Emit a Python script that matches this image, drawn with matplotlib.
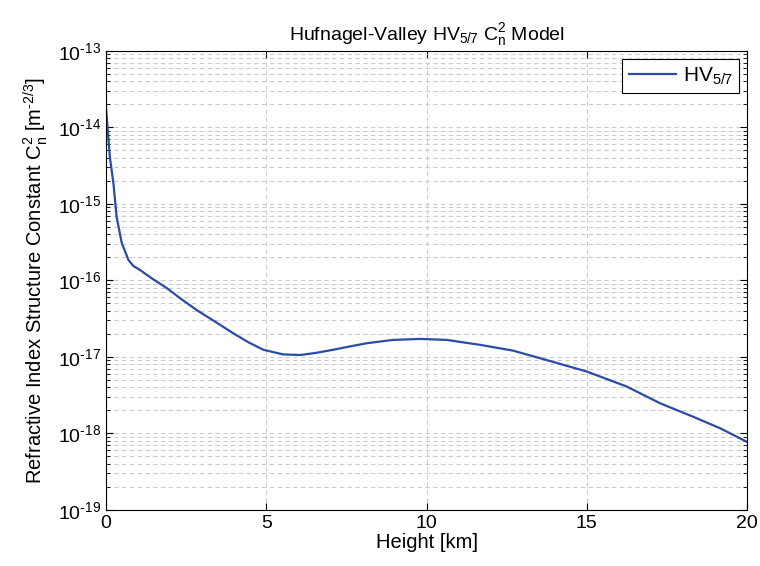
import matplotlib
matplotlib.use('Agg')
import matplotlib.pyplot as plt
from matplotlib.ticker import FixedLocator, NullFormatter, FuncFormatter
import numpy as np

plt.rcParams['font.family'] = ['Liberation Sans', 'DejaVu Sans']
plt.rcParams['mathtext.fontset'] = 'custom'
plt.rcParams['mathtext.rm'] = 'Liberation Sans'
plt.rcParams['mathtext.it'] = 'Liberation Sans'
plt.rcParams['mathtext.default'] = 'regular'

# height [km] and Cn^2 [m^-2/3]
height_km = [0.0, 0.12, 0.23, 0.33, 0.49, 0.70, 0.85, 1.06, 1.45, 1.89, 2.35,
             2.83, 3.4, 3.97, 4.45, 4.91, 5.53, 6.05, 6.55, 7.08, 7.6, 8.13,
             8.95, 9.80, 10.63, 11.67, 12.70, 13.75, 15.0, 16.25, 17.29,
             18.31, 19.16, 19.99]
cn2 = [1.8e-14, 4.1e-15, 1.88e-15, 6.8e-16, 3.1e-16, 1.85e-16, 1.55e-16,
       1.37e-16, 1.05e-16, 7.98e-17, 5.7e-17, 4.1e-17, 2.9e-17, 2.04e-17,
       1.55e-17, 1.24e-17, 1.08e-17, 1.06e-17, 1.13e-17, 1.24e-17, 1.37e-17,
       1.51e-17, 1.67e-17, 1.72e-17, 1.67e-17, 1.44e-17, 1.21e-17, 9.1e-18,
       6.45e-18, 4.1e-18, 2.48e-18, 1.66e-18, 1.17e-18, 7.8e-19]

# axis ticks
x_ticks = [0, 5, 10, 15, 20]
y_decades = [-19, -18, -17, -16, -15, -14, -13]


def decade_label(val, pos):
    n = int(round(np.log10(val)))
    sign = r'\text{-}' if n < 0 else ''
    return r'$10^{%s%d}$' % (sign, abs(n))


y_major = [10.0 ** d for d in y_decades]
y_minor = [m * 10.0 ** d for d in y_decades[:-1] for m in range(2, 10)]

fig = plt.figure(figsize=(7.6, 5.66), dpi=100)
ax = fig.add_axes([0.1395, 0.099, 0.8434, 0.811])

ax.semilogy(height_km, cn2, color='#2b4ca6', lw=1.6, label='HV$_{5/7}$')

ax.set_xlim(0, 20)
ax.set_ylim(1e-19, 1e-13)
ax.set_xticks(x_ticks)
ax.yaxis.set_major_locator(FixedLocator(y_major))
ax.yaxis.set_major_formatter(FuncFormatter(decade_label))
ax.yaxis.set_minor_locator(FixedLocator(y_minor))
ax.yaxis.set_minor_formatter(NullFormatter())

ax.grid(True, which='major', axis='both', ls=(0, (4, 3)), color='#cccccc', lw=0.8)
ax.grid(True, which='minor', axis='y', ls=(0, (4, 3)), color='#cccccc', lw=0.8)
ax.tick_params(which='both', direction='in', top=True, right=True, labelsize=14)
ax.tick_params(which='major', length=5)
ax.tick_params(which='minor', length=3, labelleft=False, labelbottom=False)

ax.set_title('Hufnagel-Valley HV$_{5/7}$ C$_n^2$ Model', fontsize=14, pad=8)
ax.set_xlabel('Height [km]', fontsize=14.5, labelpad=1)
ax.set_ylabel(r'Refractive Index Structure Constant C$_n^2$ [m$^{\text{-}2/3}$]',
              fontsize=14.5, labelpad=6)

leg = ax.legend(loc='upper right', fontsize=15, fancybox=False, framealpha=1,
                edgecolor='black', handlelength=2.3, handletextpad=0.3,
                borderaxespad=0.4, borderpad=0.3)
leg.get_frame().set_linewidth(0.8)

fig.savefig('out.png', dpi=100)
